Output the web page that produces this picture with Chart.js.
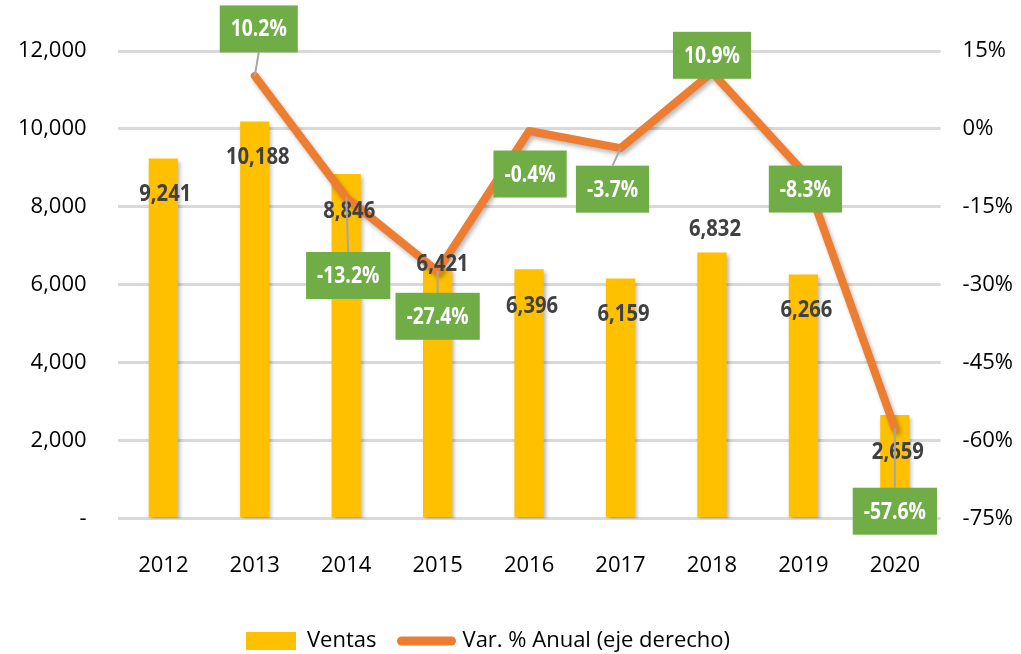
<!DOCTYPE html>
<html>
<head>
<meta charset="utf-8">
<script src="https://cdn.jsdelivr.net/npm/chart.js@4"></script>
<style>
  html, body { margin: 0; background: #fff; }
  #wrap { width: 1021px; height: 654px; }
</style>
</head>
<body>
<div id="wrap"><canvas id="grafico"></canvas></div>
<script>
// datos
var years = ["2012", "2013", "2014", "2015", "2016", "2017", "2018", "2019", "2020"];
var ventas = [9241, 10188, 8846, 6421, 6396, 6159, 6832, 6266, 2659];
var variacion = [null, 10.2, -13.2, -27.4, -0.4, -3.7, 10.9, -8.3, -57.6];

// where the labels sit relative to their mark (px)
var ventasShift = [[2, 36], [3, 36], [3, 38], [5, -4], [3, 37], [3, 36], [3, -23], [3, 36], [3, 37]];
var varShift = [null, [4, -47], [2, 78], [0, 45], [1, 43], [-8, 41], [0, -17], [2, 17], [0, 83]];
var leader = [false, true, true, true, false, true, false, false, true];

var fuente = "'Open Sans', sans-serif";

var fmt = n => n.toLocaleString("en-US");

var sombra = {
  id: "sombra",
  beforeDatasetDraw: (chart, args) => {
    var ctx = chart.ctx;
    ctx.save();
    ctx.shadowColor = "rgba(0,0,0,0.28)";
    ctx.shadowOffsetX = 2;
    ctx.shadowOffsetY = 3;
    ctx.shadowBlur = 4;
  },
  afterDatasetDraw: chart => {
    chart.ctx.restore();
  }
};

// narrow text like the original labels
var narrowText = (ctx, txt, x, y, k) => {
  ctx.save();
  ctx.translate(x, y);
  ctx.scale(k, 1);
  ctx.fillText(txt, 0, 0);
  ctx.restore();
};

var etiquetas = {
  id: "etiquetas",
  afterDatasetsDraw: chart => {
    var ctx = chart.ctx;
    var bars = chart.getDatasetMeta(0).data;
    var pts = chart.getDatasetMeta(1).data;
    ctx.save();
    ctx.font = "bold 23px " + fuente;
    ctx.textAlign = "center";
    ctx.textBaseline = "middle";

    // bar values
    ctx.fillStyle = "#404040";
    bars.forEach((b, i) => {
      var s = ventasShift[i];
      narrowText(ctx, fmt(ventas[i]), b.x + s[0], b.y + s[1], 0.88);
    });

    // leader lines + green boxes
    var h = 47;
    pts.forEach((p, i) => {
      if (variacion[i] == null) return;
      var s = varShift[i];
      var cx = p.x + s[0], cy = p.y + s[1];
      var txt = variacion[i].toFixed(1) + "%";
      var w = ctx.measureText(txt).width * 0.84 + 22;
      if (leader[i]) {
        var ey = cy > p.y ? cy - h / 2 : cy + h / 2;
        ctx.strokeStyle = "#A6A6A6";
        ctx.lineWidth = 2;
        ctx.beginPath();
        ctx.moveTo(p.x, p.y);
        ctx.lineTo(cx, ey);
        ctx.stroke();
      }
      ctx.fillStyle = "#70AD47";
      ctx.fillRect(cx - w / 2, cy - h / 2, w, h);
      ctx.fillStyle = "#fff";
      narrowText(ctx, txt, cx, cy + 1, 0.84);
    });
    ctx.restore();
  }
};

// the legend in the original sits a bit left of centre
var moverLeyenda = {
  id: "moverLeyenda",
  afterLayout: chart => {
    chart.legend.left -= 23;
    chart.legend.right -= 23;
  }
};

new Chart(document.getElementById("grafico"), {
  type: "bar",
  data: {
    labels: years,
    datasets: [
      {
        label: "Ventas",
        data: ventas,
        backgroundColor: "#FFC000",
        barPercentage: 0.4,
        categoryPercentage: 0.8,
        yAxisID: "y",
        order: 2
      },
      {
        type: "line",
        label: "Var. % Anual (eje derecho)",
        data: variacion,
        borderColor: "#ED7D31",
        backgroundColor: "#ED7D31",
        borderWidth: 8,
        borderCapStyle: "round",
        borderJoinStyle: "round",
        pointRadius: 0,
        tension: 0,
        yAxisID: "y1",
        order: 1
      }
    ]
  },
  options: {
    responsive: true,
    maintainAspectRatio: false,
    animation: false,
    layout: { padding: { top: 51, left: -13, right: -14, bottom: -8 } },
    plugins: {
      tooltip: { enabled: false },
      legend: {
        position: "bottom",
        labels: {
          font: { family: fuente, size: 22 },
          color: "#000",
          usePointStyle: true,
          pointStyleWidth: 50,
          boxHeight: 18,
          padding: 25,
          generateLabels: chart => [
            { text: "Ventas", fillStyle: "#FFC000", strokeStyle: "#FFC000", lineWidth: 0, pointStyle: "rect", datasetIndex: 0 },
            { text: "Var. % Anual (eje derecho)", fillStyle: "#ED7D31", strokeStyle: "#ED7D31", lineWidth: 9, lineCap: "round", pointStyle: "line", datasetIndex: 1 }
          ]
        }
      }
    },
    scales: {
      x: {
        grid: { display: false },
        border: { display: false },
        ticks: { font: { family: fuente, size: 22 }, color: "#000", padding: 26 }
      },
      y: {
        position: "left",
        min: 0,
        max: 12000,
        ticks: {
          stepSize: 2000,
          font: { family: fuente, size: 22 },
          color: "#000",
          padding: 31,
          callback: v => v === 0 ? "-" : fmt(v)
        },
        grid: { color: "#D9D9D9", lineWidth: 3, drawTicks: false },
        border: { display: false }
      },
      y1: {
        position: "right",
        min: -75,
        max: 15,
        ticks: {
          stepSize: 15,
          font: { family: fuente, size: 22 },
          color: "#000",
          padding: 22,
          callback: v => v + "%"
        },
        grid: { display: false, drawTicks: false },
        border: { display: false }
      }
    }
  },
  plugins: [sombra, etiquetas, moverLeyenda]
});
</script>
</body>
</html>
